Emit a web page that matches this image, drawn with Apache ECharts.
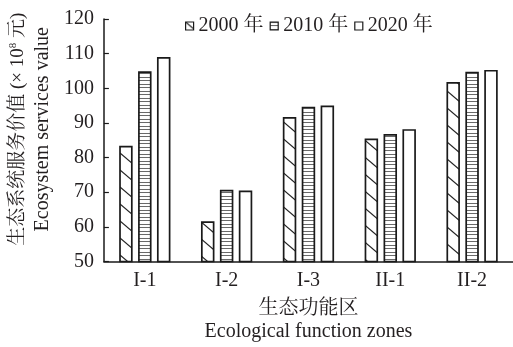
<!DOCTYPE html>
<html>
<head>
<meta charset="utf-8">
<script src="https://cdn.jsdelivr.net/npm/echarts@6/dist/echarts.min.js"></script>
<style>
  html, body { margin: 0; padding: 0; background: #fff; }
  #main { width: 513px; height: 347px; }
</style>
</head>
<body>
<div id="main"></div>
<script>
var zones = ['I-1', 'I-2', 'I-3', 'II-1', 'II-2'];
var years = ['2000 年', '2010 年', '2020 年'];
var v2000 = [83.4, 61.6, 91.7, 85.5, 101.8];
var v2010 = [104.9, 70.7, 94.7, 86.8, 104.8];
var v2020 = [109.0, 70.5, 95.0, 88.2, 105.3];
var yTicks = [50, 60, 70, 80, 90, 100, 110, 120];

var serif = "'Liberation Serif', 'Noto Serif CJK SC', 'Noto Sans CJK SC', serif";
var ink = '#231f20';

// diagonal hatch "\" for 2000
function hatchDiag() {
    var c = document.createElement('canvas');
    c.width = 20; c.height = 17;
    var ctx = c.getContext('2d');
    ctx.fillStyle = '#fff';
    ctx.fillRect(0, 0, 20, 17);
    ctx.strokeStyle = '#222';
    ctx.lineWidth = 1.2;
    for (var k = -1; k <= 1; k++) {
        ctx.beginPath();
        ctx.moveTo(0, k * 17);
        ctx.lineTo(20, 17 + k * 17);
        ctx.stroke();
    }
    return c;
}
// horizontal stripes for 2010
function hatchHoriz() {
    var c = document.createElement('canvas');
    c.width = 4; c.height = 7;
    var ctx = c.getContext('2d');
    ctx.fillStyle = '#fff';
    ctx.fillRect(0, 0, 4, 7);
    ctx.fillStyle = '#6a6a6a';
    ctx.fillRect(0, 0, 4, 1);
    ctx.fillRect(0, 3, 4, 1);
    return c;
}

var dom = document.getElementById('main');
var myChart = echarts.init(dom, null, {renderer: 'canvas'});

function barSeries(name, data, fill) {
    return {
        name: name,
        type: 'bar',
        data: data,
        barWidth: 13.5,
        barGap: '40%',
        itemStyle: {
            color: fill,
            borderColor: '#1a1a1a',
            borderWidth: 1.7
        }
    };
}

var option = {
    animation: false,
    backgroundColor: '#fff',
    textStyle: {fontFamily: serif, color: ink},
    legend: {
        left: 180,
        top: 11,
        itemWidth: 8,
        itemHeight: 8,
        itemGap: 6,
        icon: 'rect',
        data: years,
        itemStyle: {borderWidth: 1.2},
        textStyle: {fontFamily: serif, fontSize: 20, color: ink}
    },
    grid: {
        left: 100,
        top: 19,
        bottom: 84,
        width: 416.5,
        containLabel: false
    },
    xAxis: {
        type: 'category',
        data: zones,
        name: '{c|生态功能区}\n{e|Ecological function zones}',
        nameLocation: 'middle',
        nameGap: 36,
        nameTextStyle: {
            rich: {
                c: {fontFamily: serif, fontSize: 20, color: ink, lineHeight: 23},
                e: {fontFamily: serif, fontSize: 20, color: ink, lineHeight: 23}
            }
        },
        axisLine: {lineStyle: {color: '#1a1a1a', width: 1.5}},
        axisTick: {inside: true, length: 4, lineStyle: {color: '#1a1a1a', width: 1.2}},
        axisLabel: {fontFamily: serif, fontSize: 20, color: ink, margin: 9}
    },
    yAxis: {
        type: 'value',
        min: yTicks[0],
        max: yTicks[yTicks.length - 1],
        interval: 10,
        name: '{c|生态系统服务价值 (× 10}{s|8}{c| 元)}\n{e|Ecosystem services value}',
        nameLocation: 'middle',
        nameGap: 44,
        nameTextStyle: {
            padding: [0, 0, 0, 22],
            rich: {
                c: {fontFamily: serif, fontSize: 19, color: ink, lineHeight: 25},
                s: {fontFamily: serif, fontSize: 11, color: ink, padding: [0, 0, 9, 0]},
                e: {fontFamily: serif, fontSize: 20, color: ink, lineHeight: 25}
            }
        },
        splitLine: {show: false},
        axisLine: {show: true, lineStyle: {color: '#1a1a1a', width: 1.5}},
        axisTick: {show: true, inside: true, length: 5, lineStyle: {color: '#1a1a1a', width: 1.2}},
        axisLabel: {fontFamily: serif, fontSize: 20, color: ink, margin: 10}
    },
    series: [
        barSeries(years[0], v2000, {image: hatchDiag(), repeat: 'repeat'}),
        barSeries(years[1], v2010, {image: hatchHoriz(), repeat: 'repeat'}),
        barSeries(years[2], v2020, '#fff')
    ]
};

if (option && typeof option === 'object') {
    myChart.setOption(option, true);
}
</script>
</body>
</html>
